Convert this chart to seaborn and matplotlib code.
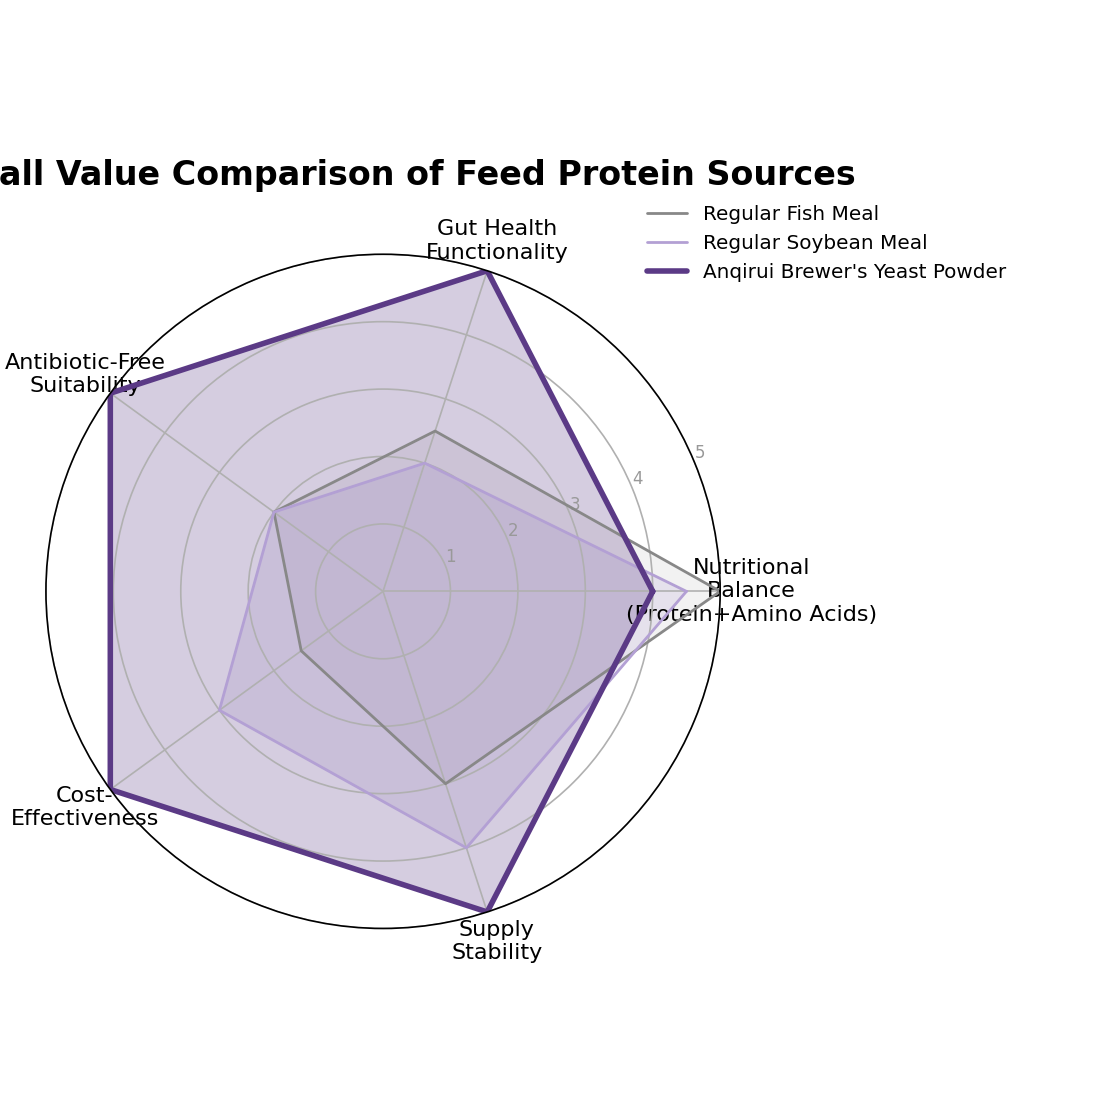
import numpy as np
import matplotlib
matplotlib.use("Agg")
import matplotlib.pyplot as plt
import seaborn as sns

categories = ["Nutritional\nBalance\n(Protein+Amino Acids)", "Gut Health\nFunctionality",
              "Antibiotic-Free\nSuitability", "Cost-\nEffectiveness", "Supply\nStability"]
fish_meal = [5, 2.5, 2, 1.5, 3]
soybean_meal = [4.5, 2, 2, 3, 4]
yeast_powder = [4, 5, 5, 5, 5]
series_names = ["Regular Fish Meal", "Regular Soybean Meal", "Anqirui Brewer's Yeast Powder"]
ring_ticks = [1, 2, 3, 4, 5]

sns.set_style("white")
plt.rcParams.update({"text.color": "black", "axes.labelcolor": "black",
                     "xtick.color": "black", "ytick.color": "black"})
colors = ["#888888", "#b3a0d4", "#5b3a86"]
widths = [2, 2, 4]
fill_alpha = [0.1, 0.2, 0.25]

angles = np.linspace(0, 2 * np.pi, len(categories), endpoint=False).tolist()
angles_closed = angles + angles[:1]

fig = plt.figure(figsize=(11.2, 11.2), dpi=100)
ax = fig.add_axes([0.041, 0.171, 0.602, 0.602], projection="polar")
ax.set_axisbelow("line")  # grid sits over the fills, under the outlines

for name, vals, c, lw, a in zip(series_names, [fish_meal, soybean_meal, yeast_powder],
                                 colors, widths, fill_alpha):
    v = vals + vals[:1]
    ax.plot(angles_closed, v, color=c, linewidth=lw, label=name)
    ax.fill(angles_closed, v, color=c, alpha=a)

ax.set_ylim(0, 5)
ax.set_xticks(angles)
ax.set_xticklabels(categories, fontsize=16, color="black")
ax.tick_params(axis="x", pad=12)
ax.set_yticks(ring_ticks)
ax.set_yticklabels([str(t) for t in ring_ticks], color="#999999", fontsize=12)
ax.grid(True, color="#b0b0b0", linewidth=1.2)
ax.spines["polar"].set_color("black")
ax.spines["polar"].set_linewidth(1.2)

ax.set_title("Overall Value Comparison of Feed Protein Sources", fontsize=24,
             fontweight="bold", pad=50, color="black")
ax.legend(loc="upper right", bbox_to_anchor=(1.451, 1.1), frameon=False, fontsize=14.4,
          handlelength=2.0, labelspacing=0.5)

fig.savefig("out.png", dpi=100)
